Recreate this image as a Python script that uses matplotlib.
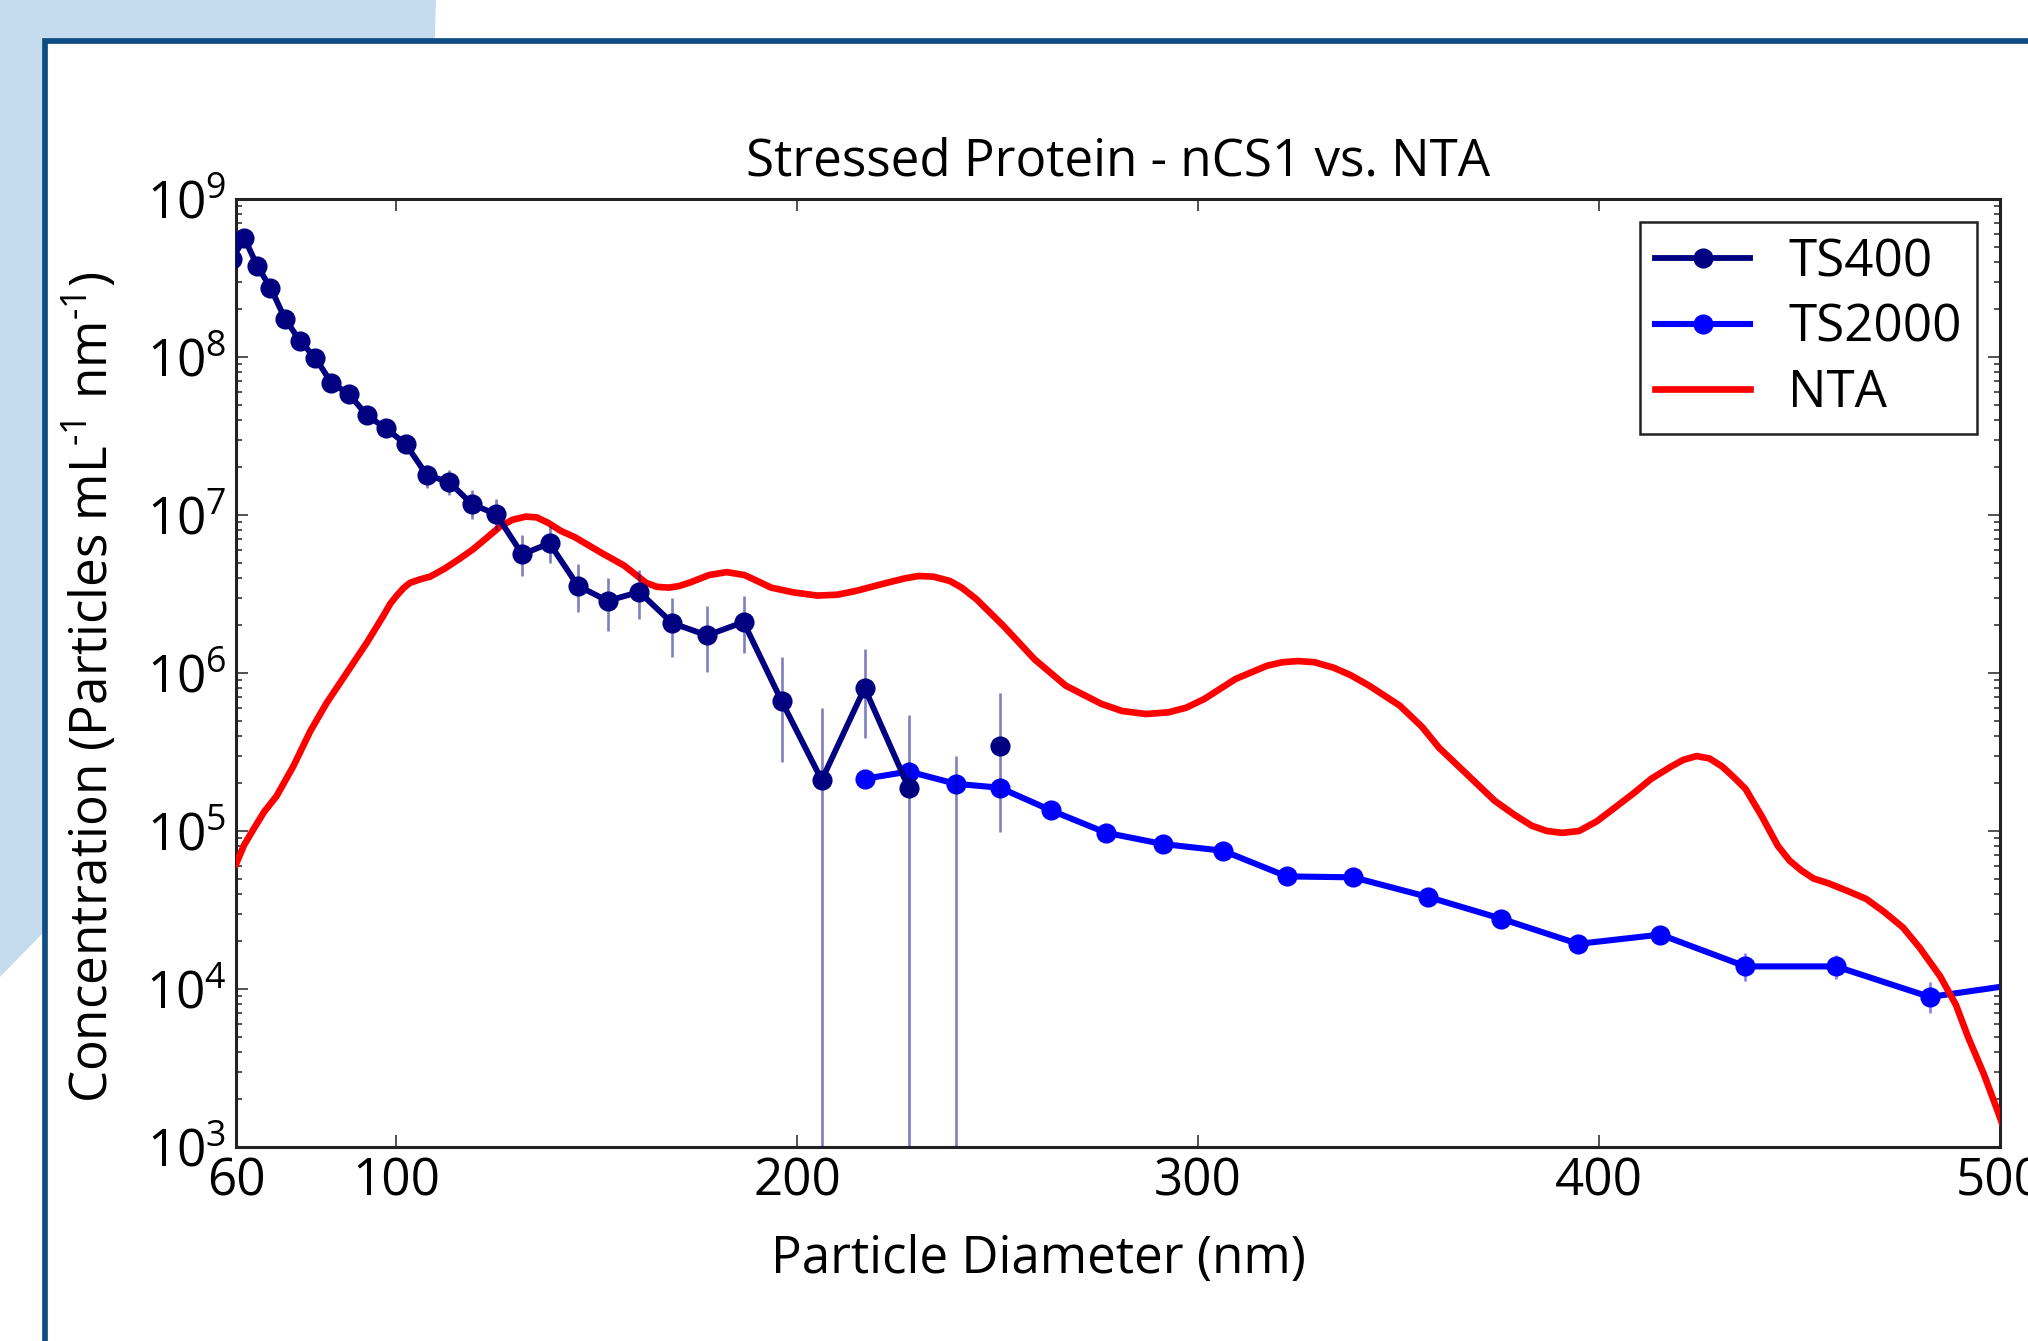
import numpy as np
import matplotlib
matplotlib.use('Agg')
import matplotlib.pyplot as plt
from matplotlib.patches import Polygon, Rectangle
from matplotlib.ticker import LogLocator, NullLocator

plt.rcParams['font.family'] = ['Open Sans', 'DejaVu Sans']
plt.rcParams['mathtext.fontset'] = 'custom'
plt.rcParams['mathtext.rm'] = 'Open Sans'
plt.rcParams['mathtext.it'] = 'Open Sans:italic'
plt.rcParams['mathtext.default'] = 'regular'

FS = 36.8

# TS400 (nCS1, small cartridge) - value 0 where nothing was counted
ts400_x = [59.1, 62.1, 65.3, 68.6, 72.2, 75.9, 79.8, 83.8, 88.1, 92.7,
           97.3, 102.3, 107.6, 113.1, 118.9, 124.9, 131.4, 138.2, 145.3, 152.7,
           160.6, 168.8, 177.5, 186.6, 196.1, 206.1, 216.8, 227.8, 239.5, 250.5]
ts400_y = [4.2e8, 5.65e8, 3.77e8, 2.75e8, 1.75e8, 1.27e8, 9.86e7, 6.86e7, 5.84e7, 4.27e7,
           3.54e7, 2.82e7, 1.79e7, 1.62e7, 1.17e7, 1.01e7, 5.64e6, 6.62e6, 3.56e6, 2.86e6,
           3.26e6, 2.07e6, 1.73e6, 2.10e6, 6.64e5, 2.10e5, 8.03e5, 1.88e5, 0, 3.44e5]
ts400_lo = [4.05e8, 5.5e8, 3.66e8, 2.67e8, 1.70e8, 1.23e8, 9.5e7, 6.6e7, 5.6e7, 3.95e7,
            3.3e7, 2.6e7, 1.49e7, 1.34e7, 9.4e6, 8.0e6, 4.11e6, 5.0e6, 2.44e6, 1.85e6,
            2.19e6, 1.26e6, 1.02e6, 1.33e6, 2.75e5, 0, 3.90e5, 0, 0, 9.8e4]
ts400_hi = [4.35e8, 5.8e8, 3.88e8, 2.83e8, 1.80e8, 1.31e8, 1.02e8, 7.1e7, 6.1e7, 4.6e7,
            3.8e7, 3.05e7, 2.08e7, 1.92e7, 1.44e7, 1.26e7, 7.43e6, 8.5e6, 4.92e6, 4.02e6,
            4.49e6, 2.98e6, 2.66e6, 3.07e6, 1.27e6, 5.97e5, 1.42e6, 5.42e5, 3.0e5, 7.46e5]

# TS2000 (nCS1, large cartridge)
ts2000_x = [216.8, 227.8, 239.5, 250.5, 263.3, 277.0, 291.2, 306.2, 322.1, 338.7,
            357.4, 375.5, 394.8, 415.3, 436.5, 459.1, 482.5, 506.6]
ts2000_y = [2.14e5, 2.38e5, 1.99e5, 1.88e5, 1.35e5, 9.75e4, 8.27e4, 7.50e4, 5.16e4, 5.09e4,
            3.82e4, 2.79e4, 1.93e4, 2.21e4, 1.39e4, 1.39e4, 8.9e3, 1.09e4]
ts2000_lo = [1.97e5, 2.19e5, 1.83e5, 1.73e5, 1.24e5, 8.9e4, 7.6e4, 6.9e4, 4.75e4, 4.65e4,
             3.5e4, 2.55e4, 1.75e4, 2.0e4, 1.12e4, 1.15e4, 7.0e3, 9.8e3]
ts2000_hi = [2.31e5, 2.57e5, 2.15e5, 2.03e5, 1.46e5, 1.06e5, 8.95e4, 8.1e4, 5.6e4, 5.5e4,
             4.15e4, 3.03e4, 2.12e4, 2.43e4, 1.68e4, 1.65e4, 1.1e4, 1.2e4]

# NTA size distribution
nta_x = [60.0, 62.0, 64.3, 67.0, 70.1, 74.3, 78.5, 82.6, 87.6, 92.6,
         96.7, 98.5, 100.1, 101.8, 103.4, 106.0, 108.4, 112.0, 115.6, 119.0,
         122.3, 126.0, 129.0, 132.3, 135.0, 137.9, 141.0, 144.5, 151.2, 156.8,
         162.3, 165.0, 167.9, 170.5, 173.5, 178.0, 182.4, 186.8, 189.1, 193.5,
         199.0, 205.0, 210.0, 214.7, 222.5, 227.0, 230.3, 234.0, 238.1, 241.0,
         244.7, 251.4, 259.2, 267.0, 275.9, 281.0, 287.0, 292.6, 297.0, 301.5,
         309.3, 317.1, 321.0, 324.9, 329.0, 333.8, 338.0, 342.7, 350.3, 355.8,
         360.1, 367.0, 374.0, 379.0, 383.2, 387.0, 390.8, 395.0, 399.4, 404.0,
         408.7, 413.0, 418.0, 421.0, 424.3, 427.5, 430.7, 433.5, 436.5, 440.5,
         444.6, 447.5, 450.4, 453.5, 457.3, 462.0, 466.6, 471.0, 475.8, 480.0,
         485.1, 489.0, 492.1, 496.0, 499.6, 501.0]
nta_y = [6.17e4, 8.13e4, 1.02e5, 1.32e5, 1.66e5, 2.57e5, 4.27e5, 6.46e5, 1.00e6, 1.55e6,
         2.29e6, 2.75e6, 3.09e6, 3.45e6, 3.72e6, 3.92e6, 4.07e6, 4.57e6, 5.25e6, 6.03e6,
         7.08e6, 8.51e6, 9.33e6, 9.77e6, 9.66e6, 8.91e6, 7.94e6, 7.24e6, 5.75e6, 4.79e6,
         3.72e6, 3.51e6, 3.47e6, 3.55e6, 3.76e6, 4.17e6, 4.35e6, 4.17e6, 3.92e6, 3.47e6,
         3.24e6, 3.09e6, 3.13e6, 3.31e6, 3.73e6, 3.98e6, 4.11e6, 4.07e6, 3.82e6, 3.47e6,
         2.93e6, 1.99e6, 1.22e6, 8.30e5, 6.37e5, 5.75e5, 5.50e5, 5.64e5, 6.03e5, 6.84e5,
         9.16e5, 1.11e6, 1.17e6, 1.19e6, 1.17e6, 1.08e6, 9.7e5, 8.30e5, 6.21e5, 4.57e5,
         3.36e5, 2.29e5, 1.55e5, 1.26e5, 1.08e5, 1.0e5, 9.73e4, 1.00e5, 1.15e5, 1.41e5,
         1.74e5, 2.14e5, 2.56e5, 2.82e5, 2.98e5, 2.88e5, 2.56e5, 2.2e5, 1.85e5, 1.25e5,
         8.04e4, 6.5e4, 5.64e4, 5.0e4, 4.66e4, 4.17e4, 3.72e4, 3.09e4, 2.45e4, 1.82e4,
         1.20e4, 7.94e3, 4.92e3, 2.88e3, 1.64e3, 1.30e3]

x_ticks = [60, 100, 200, 300, 400, 500]

W, H = 2028, 1341
fig = plt.figure(figsize=(W / 100, H / 100), dpi=100)


def fx(px):
    return px / W


def fy(py):
    return 1 - py / H


# slide background behind the plot
bg = Polygon([(fx(0), fy(0)), (fx(436), fy(0)), (fx(420), fy(500)),
              (fx(41), fy(935)), (fx(0), fy(977))], closed=True,
             transform=fig.transFigure, facecolor='#c5dcee', edgecolor='none', zorder=-10)
fig.add_artist(bg)
frame = Rectangle((fx(44.5), -0.2), 2.0, fy(41) + 0.2, transform=fig.transFigure,
                  facecolor='white', edgecolor='#0f4c81', linewidth=4.1, zorder=-9)
fig.add_artist(frame)

ax = fig.add_axes([fx(236), fy(1147), (2000 - 236) / W, (1147 - 199) / H])
ax.set_yscale('log', nonpositive='mask')

# error bars
ax.vlines(ts2000_x, ts2000_lo, ts2000_hi, color='blue', alpha=0.5, lw=1.9, zorder=2)
ax.vlines(ts400_x, np.maximum(ts400_lo, 1e2), ts400_hi, color='navy', alpha=0.5, lw=1.9, zorder=4)

ax.plot(ts2000_x, ts2000_y, '-o', color='blue', lw=4.4, ms=13.5, label='TS2000', zorder=2.5)
ax.plot(nta_x, nta_y, '-', color='red', lw=4.8, label='NTA', zorder=3,
        solid_joinstyle='round')
ax.plot(ts400_x, ts400_y, '-o', color='navy', lw=4.2, ms=13.5, label='TS400', zorder=5)

ax.set_xlim(60, 500)
ax.set_ylim(1e3, 1e9)
ax.set_xticks(x_ticks)
ax.set_xticklabels([str(t) for t in x_ticks])
ax.xaxis.set_minor_locator(NullLocator())
ax.yaxis.set_minor_locator(LogLocator(base=10, subs=range(2, 10)))

ax.tick_params(which='both', direction='in', top=True, right=True, colors='#222222',
               labelcolor='black', labelsize=FS)
ax.tick_params(which='major', length=8.6, width=1.1)
ax.tick_params(which='minor', length=4.3, width=1.1)
ax.tick_params(axis='x', pad=7)
ax.tick_params(axis='y', pad=7)
for s in ax.spines.values():
    s.set_linewidth(2.2)
    s.set_color('#222222')

ax.set_title('Stressed Protein - nCS1 vs. NTA', fontsize=FS, pad=17)
ax.set_xlabel('Particle Diameter (nm)', fontsize=FS)
ax.set_ylabel(r'Concentration (Particles mL$^{\text{-}1}$ nm$^{\text{-}1}$)', fontsize=FS)
ax.xaxis.set_label_coords(0.455, -0.092)
ax.yaxis.set_label_coords(-0.066, 0.485)

handles, labels = ax.get_legend_handles_labels()
order = [labels.index('TS400'), labels.index('TS2000'), labels.index('NTA')]
leg = ax.legend([handles[i] for i in order], [labels[i] for i in order],
                loc='upper right', fontsize=FS, numpoints=1, handlelength=1.85,
                handletextpad=0.75, borderpad=0.3, labelspacing=0.28, borderaxespad=0.45,
                fancybox=False, framealpha=1, edgecolor='#222222')
leg.get_frame().set_linewidth(1.8)

fig.savefig('out.png', dpi=100)
